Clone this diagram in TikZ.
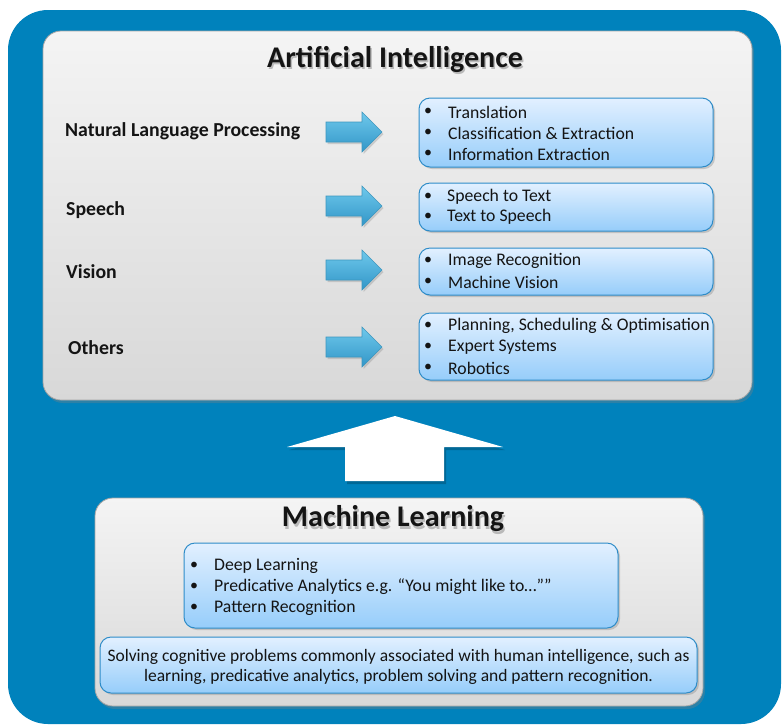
\documentclass[tikz,border=0pt]{standalone}
\usepackage{fontspec}
\setmainfont{Carlito}
\usetikzlibrary{shadows}
\definecolor{bgblue}{RGB}{0,130,188}
\definecolor{boxedge}{RGB}{46,140,200}
\definecolor{lbtop}{RGB}{226,240,255}
\definecolor{lbbot}{RGB}{150,205,250}
\definecolor{grtop}{RGB}{244,244,244}
\definecolor{grbot}{RGB}{216,216,216}
\definecolor{aredge}{RGB}{60,150,190}
\definecolor{artop}{RGB}{110,200,235}
\definecolor{arbot}{RGB}{50,150,200}
\definecolor{txt}{RGB}{20,20,20}
\tikzset{
  graybox/.style={draw=gray!70, line width=0.8pt, top color=grtop, bottom color=grbot, rounded corners=18pt,
     drop shadow={shadow xshift=2pt, shadow yshift=-3pt, opacity=0.35}},
  bluebox/.style={draw=boxedge, line width=1pt, top color=lbtop, bottom color=lbbot, rounded corners=11pt,
     drop shadow={shadow xshift=2pt, shadow yshift=-2pt, opacity=0.35}},
  label/.style={anchor=west, font=\fontsize{19.8}{22}\selectfont\bfseries, text=txt, inner sep=0pt},
  item/.style={anchor=west, font=\fontsize{17.7}{20}\selectfont, text=txt, inner sep=0pt},
  bul/.style={anchor=center, font=\fontsize{16}{19}\selectfont, text=txt, inner sep=0pt},
  titletext/.style={font=\fontsize{30}{33}\selectfont\bfseries, text=txt, inner sep=0pt},
  rarrow/.style={draw=aredge, line width=0.6pt, top color=artop, bottom color=arbot,
     drop shadow={shadow xshift=1.5pt, shadow yshift=-2pt, opacity=0.3}},
}
\newcommand{\rightarrowshape}[1]{%
  \path[rarrow] (326,#1-10) -- (362,#1-10) -- (362,#1-20) -- (382,#1) -- (362,#1+20) -- (362,#1+10) -- (326,#1+10) -- cycle;}
\begin{document}
\begin{tikzpicture}[x=1pt,y=-1pt]
\useasboundingbox (0,0) rectangle (782,724);
\fill[white] (0,0) rectangle (782,724);
% background
\fill[bgblue, rounded corners=40pt] (8,10) rectangle (781,724);
% AI box
\path[graybox] (43,31) rectangle (752,400);
\node[titletext, text=gray!55] at (396.5,61.5) {Artificial Intelligence};
\node[titletext] (aititle) at (395,59) {Artificial Intelligence};
% left labels
\node[label] (nlp) at (65,131) {Natural Language Processing};
\node[label] (speech) at (66,210) {Speech};
\node[label] (vision) at (66,272) {Vision};
\node[label] (others) at (68,348) {Others};
% arrows
\rightarrowshape{132}
\rightarrowshape{206}
\rightarrowshape{270}
\rightarrowshape{347}
% right boxes
\path[bluebox] (419,98) rectangle (713,167);
\path[bluebox] (419,183) rectangle (713,231);
\path[bluebox] (419,248) rectangle (713,295);
\path[bluebox] (419,313) rectangle (713,380);
% box1
\node[bul] at (428,112) {•}; \node[item] (t1) at (448,112) {Translation};
\node[bul] at (428,133) {•}; \node[item] (t2) at (448,133) {Classification \& Extraction};
\node[bul] at (428,154) {•}; \node[item] (t3) at (448,154) {Information Extraction};
% box2
\node[bul] at (428,197) {•}; \node[item] (s1) at (447,197) {Speech to Text};
\node[bul] at (428,217) {•}; \node[item] (s2) at (447,217) {Text to Speech};
% box3
\node[bul] at (428,261) {•}; \node[item] (v1) at (448,261) {Image Recognition};
\node[bul] at (428,282) {•}; \node[item] (v2) at (448,282) {Machine Vision};
% box4
\node[bul] at (428,326) {•}; \node[item] (o1) at (448,326) {Planning, Scheduling \& Optimisation};
\node[bul] at (428,347) {•}; \node[item] (o2) at (448,347) {Expert Systems};
\node[bul] at (428,368) {•}; \node[item] (o3) at (448,368) {Robotics};
% big up arrow
\fill[black, opacity=0.2] (397,419) -- (505,450) -- (446,450) -- (446,484) -- (347,484) -- (347,450) -- (289,450) -- cycle;
\fill[white] (395,416) -- (503,447) -- (444,447) -- (444,481) -- (345,481) -- (345,447) -- (287,447) -- cycle;
% ML box
\path[graybox] (95,498) rectangle (703,706);
\node[titletext, text=gray!55] at (394.5,521.5) {Machine Learning};
\node[titletext] (mltitle) at (393,519) {Machine Learning};
\path[bluebox] (184,543) rectangle (618,628);
\node[bul] at (194,566) {•}; \node[item] (m1) at (214,566) {Deep Learning};
\node[bul] at (194,587) {•}; \node[item] (m2) at (214,587) {Predicative Analytics e.g. “You might like to…””};
\node[bul] at (194,608) {•}; \node[item] (m3) at (214,608) {Pattern Recognition};
\path[bluebox] (100,637) rectangle (697,693);
\node[font=\fontsize{17.5}{20}\selectfont, text=txt, align=center, inner sep=0pt] (desc) at (398.5,666.5)
  {Solving cognitive problems commonly associated with human intelligence, such as\\
   learning, predicative analytics, problem solving and pattern recognition.};
\end{tikzpicture}
\end{document}
